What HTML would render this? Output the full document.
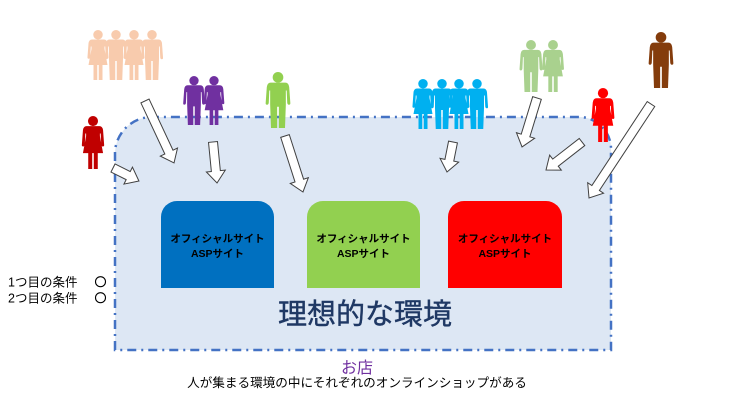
<!DOCTYPE html>
<html><head><meta charset="utf-8"><style>
html,body{margin:0;padding:0;background:#fff;}
svg{display:block;}
text{font-family:"Liberation Sans","Noto Sans CJK JP",sans-serif;}
</style></head><body>
<svg width="736" height="414" viewBox="0 0 736 414" xmlns="http://www.w3.org/2000/svg">
<defs>
<g id="man">
<circle cx="0" cy="9.5" r="9.5"/>
<path d="M-13,19 H13 Q19,19 20,27 L22,55 Q22.5,58.5 19.5,58.5 Q17,58.5 16.5,55 L15.5,33 L14,33 L14,58 L12.5,100 L1.5,100 L1.5,62 L-1.5,62 L-1.5,100 L-12.5,100 L-14,58 L-14,33 L-15.5,33 L-16.5,55 Q-17,58.5 -19.5,58.5 Q-22.5,58.5 -22,55 L-20,27 Q-19,19 -13,19 Z"/>
</g>
<g id="woman">
<circle cx="0" cy="9.5" r="9.5"/>
<path d="M-12,19 H12 Q18,19 19,27 L21,54 Q21.5,57.5 18.5,57.5 Q16,57.5 15.5,54 L14.5,33 L13,33 L13,38 L19,70 L9,70 L9,100 L1.5,100 L1.5,70 L-1.5,70 L-1.5,100 L-9,100 L-9,70 L-19,70 L-13,38 L-13,33 L-14.5,33 L-15.5,54 Q-16,57.5 -18.5,57.5 Q-21.5,57.5 -21,54 L-19,27 Q-18,19 -12,19 Z"/>
</g>
</defs>

<!-- big dashed area -->
<path d="M115,350 V152 A37,37 0 0 1 152,117 H579 A32,32 0 0 1 611,149 V350 Z" fill="#dde7f4" stroke="#4472c4" stroke-width="2.5" stroke-dasharray="9 5 2 5"/>

<!-- colored boxes -->
<path d="M161,288 V217 A16,16 0 0 1 177,201 H258 A16,16 0 0 1 274,217 V288 Z" fill="#0070c0"/>
<path d="M307,288 V217 A16,16 0 0 1 323,201 H404 A16,16 0 0 1 420,217 V288 Z" fill="#92d050"/>
<path d="M448,288 V217 A16,16 0 0 1 464,201 H546 A16,16 0 0 1 562,217 V288 Z" fill="#ff0000"/>

<g font-size="10.5" font-weight="bold" fill="#000" text-anchor="middle">
<text x="217.5" y="242">オフィシャルサイト</text>
<text x="217.5" y="257">ASPサイト</text>
<text x="363.5" y="242">オフィシャルサイト</text>
<text x="363.5" y="257">ASPサイト</text>
<text x="505" y="242">オフィシャルサイト</text>
<text x="505" y="257">ASPサイト</text>
</g>

<text x="365" y="324" font-size="29" fill="#1f3864" stroke="#1f3864" stroke-width="0.4" text-anchor="middle">理想的な環境</text>
<text x="357" y="373" font-size="16" fill="#7030a0" text-anchor="middle">お店</text>
<text x="357" y="387" font-size="12.6" fill="#000" text-anchor="middle">人が集まる環境の中にそれぞれのオンラインショップがある</text>

<text x="8" y="286.5" font-size="12.5" fill="#000">1つ目の条件</text>
<text x="8" y="302.5" font-size="12.5" fill="#000">2つ目の条件</text>
<circle cx="100.5" cy="281.7" r="5" fill="none" stroke="#000" stroke-width="1.1"/>
<circle cx="100.5" cy="297.7" r="5" fill="none" stroke="#000" stroke-width="1.1"/>

<!-- people -->
<g fill="#f8cbad">
<use href="#woman" transform="translate(98,30) scale(0.5)"/>
<use href="#man" transform="translate(116,30) scale(0.5)"/>
<use href="#woman" transform="translate(134,30) scale(0.5)"/>
<use href="#man" transform="translate(152,30) scale(0.5)"/>
</g>
<g fill="#7030a0">
<use href="#man" transform="translate(194,76) scale(0.49)"/>
<use href="#woman" transform="translate(214,76) scale(0.49)"/>
</g>
<g fill="#92d050"><use href="#man" transform="translate(278,72) scale(0.56)"/></g>
<g fill="#c00000"><use href="#woman" transform="translate(93,116) scale(0.53)"/></g>
<g fill="#00b0f0">
<use href="#woman" transform="translate(423,79) scale(0.5)"/>
<use href="#man" transform="translate(442,79) scale(0.5)"/>
<use href="#woman" transform="translate(459,79) scale(0.5)"/>
<use href="#man" transform="translate(477,79) scale(0.5)"/>
</g>
<g fill="#a9d18e">
<use href="#man" transform="translate(531,40) scale(0.52)"/>
<use href="#woman" transform="translate(553,40) scale(0.52)"/>
</g>
<g fill="#ff0000"><use href="#woman" transform="translate(603,88) scale(0.54)"/></g>
<g fill="#843c0c"><use href="#man" transform="translate(661,32) scale(0.56)"/></g>

<!-- arrows -->
<g fill="#fff" stroke="#404040" stroke-width="1" stroke-linejoin="miter">
<path transform="translate(145,101) rotate(64.9)" d="M0,-4.5 L56.4,-4.5 L56.4,-9.5 L68.4,0 L56.4,9.5 L56.4,4.5 L0,4.5 Z"/>
<path transform="translate(113,168) rotate(26.6)" d="M0,-4.5 L17,-4.5 L17,-9.5 L29,0 L17,9.5 L17,4.5 L0,4.5 Z"/>
<path transform="translate(213,142) rotate(84.4)" d="M0,-4.5 L29.2,-4.5 L29.2,-9.5 L41.2,0 L29.2,9.5 L29.2,4.5 L0,4.5 Z"/>
<path transform="translate(285,136) rotate(72.2)" d="M0,-4.5 L46.8,-4.5 L46.8,-9.5 L58.8,0 L46.8,9.5 L46.8,4.5 L0,4.5 Z"/>
<path transform="translate(453,142) rotate(101.3)" d="M0,-4.5 L18.6,-4.5 L18.6,-9.5 L30.6,0 L18.6,9.5 L18.6,4.5 L0,4.5 Z"/>
<path transform="translate(537,98) rotate(107)" d="M0,-4.5 L39.2,-4.5 L39.2,-9.5 L51.2,0 L39.2,9.5 L39.2,4.5 L0,4.5 Z"/>
<path transform="translate(582,142) rotate(142.1)" d="M0,-4.5 L33.6,-4.5 L33.6,-9.5 L45.6,0 L33.6,9.5 L33.6,4.5 L0,4.5 Z"/>
<path transform="translate(651,104) rotate(123.4)" d="M0,-4.5 L100.6,-4.5 L100.6,-9.5 L112.6,0 L100.6,9.5 L100.6,4.5 L0,4.5 Z"/>
</g>
</svg>
</body></html>
